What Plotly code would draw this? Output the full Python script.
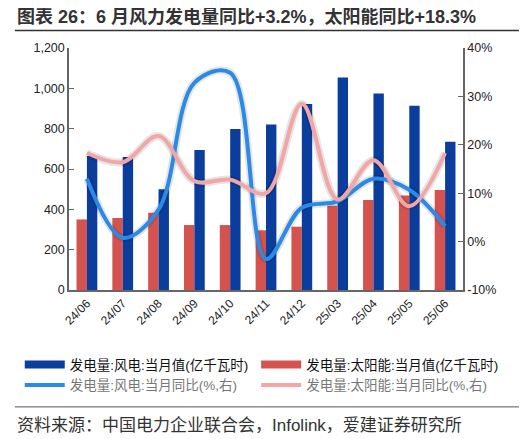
import plotly.graph_objects as go

months = ["24/06", "24/07", "24/08", "24/09", "24/10", "24/11", "24/12", "25/03", "25/04", "25/05", "25/06"]
wind_gen = [664, 660, 500, 694, 798, 821, 922, 1054, 975, 914, 735]
solar_gen = [350, 357, 383, 322, 322, 296, 314, 418, 446, 469, 496]
wind_yoy = [13.0, 0.8, 6.6, 32.8, 34.9, -3.6, 7.0, 8.3, 13.0, 10.7, 3.2]
solar_yoy = [18.3, 16.4, 21.8, 12.5, 12.8, 10.0, 28.5, 8.7, 16.8, 7.3, 18.3]

left_ticks = [0, 200, 400, 600, 800, 1000, 1200]
right_ticks = [-10, 0, 10, 20, 30, 40]
right_labels = [f"{v}%" for v in right_ticks]

name_wind_bar = "发电量:风电:当月值(亿千瓦时)"
name_solar_bar = "发电量:太阳能:当月值(亿千瓦时)"
name_wind_line = "发电量:风电:当月同比(%,右)"
name_solar_line = "发电量:太阳能:当月同比(%,右)"
title_text = "图表 26：6 月风力发电量同比+3.2%，太阳能同比+18.3%"
source_text = "资料来源：中国电力企业联合会，Infolink，爱建证券研究所"

C_WIND = "#0A3D9C"
C_SOLAR = "#D5534F"
C_WIND_L = "#2A8AE6"
C_SOLAR_L = "#F3A6A6"
FONT = "Liberation Sans, Noto Sans CJK SC, sans-serif"


def grey(s):
    return '<span style="color:#777777">' + s + '</span>'


fig = go.Figure()

fig.add_trace(go.Bar(x=months, y=solar_gen, name=name_solar_bar, showlegend=False,
                     marker=dict(color=C_SOLAR, line=dict(width=0))))
fig.add_trace(go.Bar(x=months, y=wind_gen, name=name_wind_bar, showlegend=False,
                     marker=dict(color=C_WIND, line=dict(width=0))))

# soft shadow under the lines (same data)
for vals in (solar_yoy, wind_yoy):
    fig.add_trace(go.Scatter(x=months, y=vals, yaxis="y2", mode="lines",
                             line=dict(color="rgba(0,0,0,0.10)", width=8, shape="spline", smoothing=1.0),
                             showlegend=False, hoverinfo="skip"))

fig.add_trace(go.Scatter(x=months, y=wind_yoy, yaxis="y2", mode="lines", showlegend=False,
                         line=dict(color=C_WIND_L, width=4, shape="spline", smoothing=1.0)))
fig.add_trace(go.Scatter(x=months, y=solar_yoy, yaxis="y2", mode="lines", showlegend=False,
                         line=dict(color=C_SOLAR_L, width=4, shape="spline", smoothing=1.0)))

# legend entries (two columns = two legends)
fig.add_trace(go.Scatter(x=[None], y=[None], mode="lines", name=name_wind_bar, legend="legend",
                         line=dict(color=C_WIND, width=8)))
fig.add_trace(go.Scatter(x=[None], y=[None], mode="lines", name=grey(name_wind_line), legend="legend",
                         line=dict(color=C_WIND_L, width=4)))
fig.add_trace(go.Scatter(x=[None], y=[None], mode="lines", name=name_solar_bar, legend="legend2",
                         line=dict(color=C_SOLAR, width=8)))
fig.add_trace(go.Scatter(x=[None], y=[None], mode="lines", name=grey(name_solar_line), legend="legend2",
                         line=dict(color=C_SOLAR_L, width=4)))

leg_common = dict(orientation="v", yanchor="top", xanchor="left", traceorder="normal",
                  font=dict(size=13.5, color="#111"), bgcolor="rgba(0,0,0,0)", itemwidth=40)

fig.update_layout(
    width=519, height=431,
    margin=dict(l=55, r=64, t=40, b=149),
    paper_bgcolor="white", plot_bgcolor="white",
    font=dict(family=FONT, size=12, color="#222"),
    barmode="group", bargap=0.42, bargroupgap=0.0,
    showlegend=True,
    legend=dict(x=-0.125, y=-0.245, **leg_common),
    legend2=dict(x=0.475, y=-0.245, **leg_common),
    xaxis=dict(type="category", showline=True, linecolor="#666", linewidth=1.5,
               ticks="", tickangle=-45, tickfont=dict(size=12, color="#222"),
               showgrid=False, zeroline=False, range=[-0.5, 10.5]),
    yaxis=dict(range=[0, 1200], tickvals=left_ticks, tickformat=",d", showline=True,
               linecolor="#666", linewidth=1.5, ticks="inside", ticklen=5, tickcolor="#666",
               showgrid=False, zeroline=False, tickfont=dict(size=12.5, color="#222")),
    yaxis2=dict(range=[-10, 40], tickvals=right_ticks, ticktext=right_labels, overlaying="y", side="right",
                showline=True, linecolor="#666", linewidth=1.5, ticks="inside", ticklen=5,
                tickcolor="#666", showgrid=False, zeroline=False, tickfont=dict(size=12.5, color="#222")),
    shapes=[
        dict(type="line", xref="paper", yref="paper", x0=-0.1375, x1=1.16, y0=1.072, y1=1.072,
             line=dict(color="#333", width=1.5)),
        dict(type="line", xref="paper", yref="paper", x0=-0.1375, x1=1.16, y0=-0.483, y1=-0.483,
             line=dict(color="#555", width=1)),
    ],
    annotations=[
        dict(text="<b>" + title_text + "</b>", xref="paper", yref="paper", x=-0.1375, y=1.13,
             xanchor="left", yanchor="middle", showarrow=False,
             font=dict(size=18, color="#333", family=FONT)),
        dict(text=source_text, xref="paper", yref="paper", x=-0.1375, y=-0.56,
             xanchor="left", yanchor="middle", showarrow=False,
             font=dict(size=17, color="#333", family=FONT)),
    ],
)

fig.write_html("out.html")
